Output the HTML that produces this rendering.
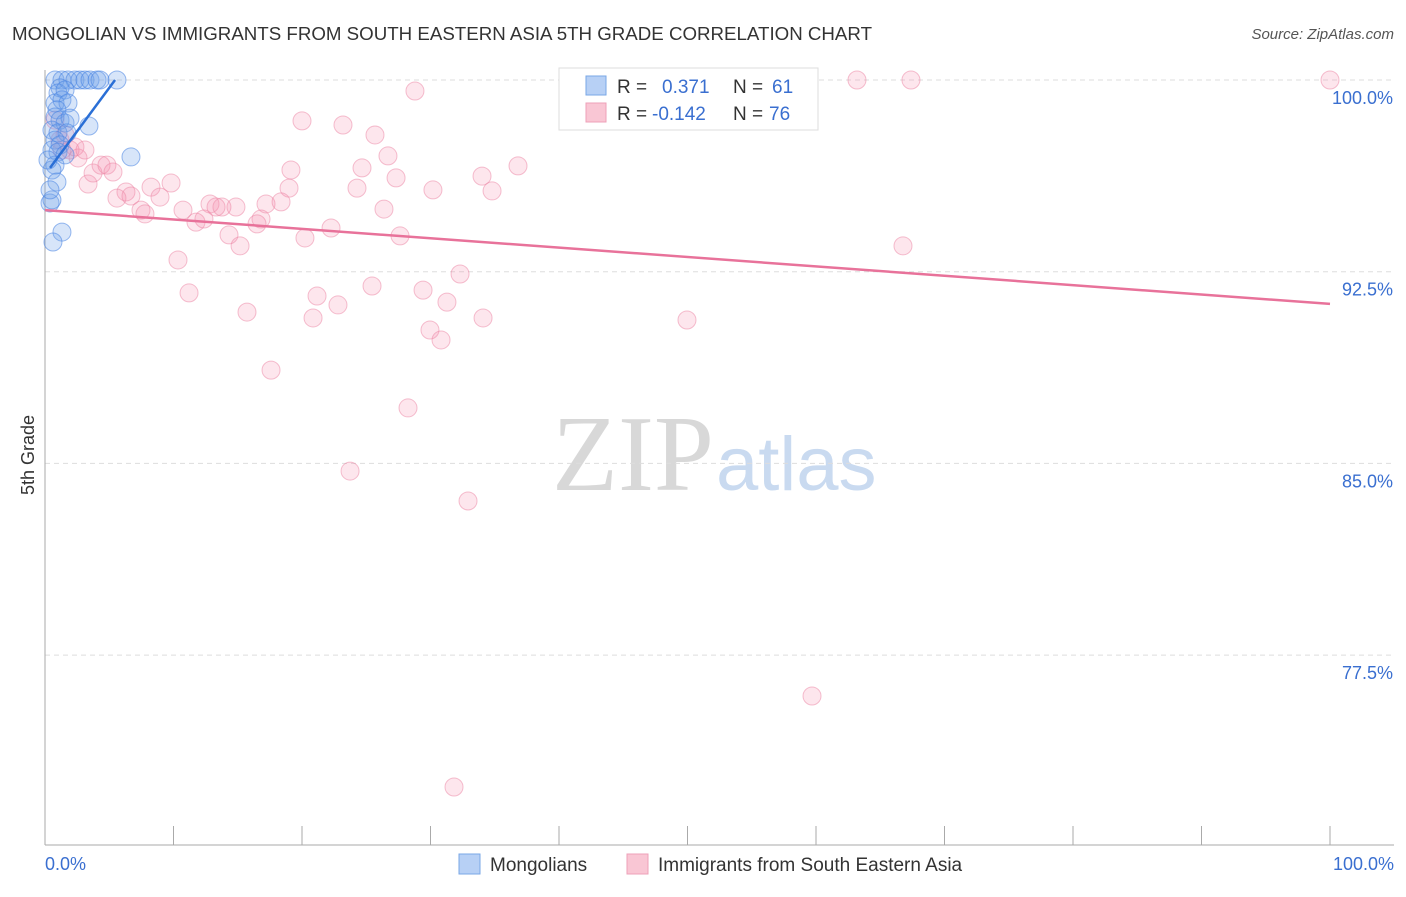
<!DOCTYPE html>
<html><head><meta charset="utf-8"><style>
body{margin:0;background:#fff;font-family:"Liberation Sans",sans-serif}
svg text{font-family:"Liberation Sans",sans-serif}
</style></head><body>
<svg id="chart" width="1406" height="892" xmlns="http://www.w3.org/2000/svg">
<text x="12" y="40" font-size="18" fill="#333" textLength="860" lengthAdjust="spacingAndGlyphs">MONGOLIAN VS IMMIGRANTS FROM SOUTH EASTERN ASIA 5TH GRADE CORRELATION CHART</text>
<text x="1394" y="39" font-size="15" fill="#555" font-style="italic" text-anchor="end">Source: ZipAtlas.com</text>
<text x="714" y="490" font-size="108" fill="#d8d8d8" text-anchor="end" style="font-family:'Liberation Serif',serif">ZIP</text>
<text x="716" y="490" font-size="76" fill="#c9daf0">atlas</text>
<g id="grid"></g><g id="axes"></g><g id="pts"></g><g id="lines"></g>
<text x="34" y="455" font-size="18" fill="#333" text-anchor="middle" transform="rotate(-90 34 455)">5th Grade</text>
<g>
<rect x="559" y="68" width="259" height="62" fill="#fff" stroke="#ddd"/>
<rect x="586" y="76" width="20" height="19" fill="#b7d0f5" stroke="#7aa7e6"/>
<rect x="586" y="103" width="20" height="19" fill="#f9c6d4" stroke="#eea0b8"/>
<text x="617" y="93" font-size="19" fill="#333">R =</text><text x="662" y="93" font-size="19" fill="#3a6fd0">0.371</text>
<text x="733" y="93" font-size="19" fill="#333">N =</text><text x="772" y="93" font-size="19" fill="#3a6fd0">61</text>
<text x="617" y="120" font-size="19" fill="#333">R =</text><text x="652" y="120" font-size="19" fill="#3a6fd0">-0.142</text>
<text x="733" y="120" font-size="19" fill="#333">N =</text><text x="769" y="120" font-size="19" fill="#3a6fd0">76</text>
</g>
<g>
<rect x="459" y="854" width="21" height="20" fill="#b7d0f5" stroke="#7aa7e6"/>
<text x="490" y="871" font-size="19" fill="#333">Mongolians</text>
<rect x="627" y="854" width="21" height="20" fill="#f9c6d4" stroke="#eea0b8"/>
<text x="658" y="871" font-size="19" fill="#333">Immigrants from South Eastern Asia</text>
</g>
</svg>
<script>
const yTicks=[100,92.5,85,77.5];
const yTickLabels=["100.0%","92.5%","85.0%","77.5%"];
const xTickLabels=["0.0%","100.0%"];
const blueX=[0.78,1.32,1.79,2.33,2.72,3.11,3.5,4.05,4.28,5.6,1.17,1.01,1.56,0.78,1.32,1.79,0.93,0.78,1.17,1.56,1.95,3.42,0.54,1.01,1.71,0.78,1.17,0.54,1.01,1.56,6.69,0.78,0.54,0.93,0.39,0.54,1.32,0.62,0.39,0.23];
const blueY=[100,100,100,100,100,100,100,100,100,100,99.69,99.49,99.61,99.1,99.22,99.1,98.83,98.55,98.43,98.32,98.51,98.2,98.04,97.93,97.93,97.65,97.46,97.26,97.18,97.07,96.99,96.67,96.48,96.01,95.19,95.31,94.05,93.66,95.7,96.87];
const pinkX=[63.19,67.39,100,28.79,20,23.19,25.68,26.69,19.14,24.67,36.81,34.01,27.32,24.28,30.19,34.79,26.38,18.99,17.2,18.37,14.86,12.84,13.77,10.74,11.75,12.37,13.31,16.81,16.5,14.32,15.18,20.23,22.26,27.63,66.77,9.81,8.25,6.3,5.6,6.69,8.95,7.47,7.78,3.35,3.74,4.36,4.82,5.29,2.57,1.95,2.33,1.56,1.32,3.11,10.35,11.21,15.72,20.86,21.17,22.8,25.45,29.42,31.28,32.3,34.09,29.96,30.82,49.96,17.59,28.25,23.74,32.92,59.69,31.83,1.17,0.78];
const pinkY=[100,100,100,99.57,98.4,98.24,97.85,97.03,96.48,96.56,96.64,96.24,96.17,95.77,95.7,95.66,94.95,95.77,95.15,95.23,95.03,95.15,95.03,94.91,94.44,94.56,95.03,94.56,94.37,93.94,93.51,93.82,94.21,93.9,93.51,95.97,95.81,95.62,95.38,95.46,95.42,94.91,94.76,95.93,96.36,96.67,96.67,96.4,96.95,97.26,97.38,97.85,97.26,97.26,92.96,91.67,90.92,90.69,91.55,91.2,91.94,91.78,91.31,92.41,90.69,90.22,89.83,90.61,88.65,87.17,84.7,83.53,75.9,72.34,97.65,98.43];
const blueFit=[[0.39,96.56],[5.45,100]];
const pinkFit=[[0,94.91],[100,91.24]];
const NS="http://www.w3.org/2000/svg";
const X=v=>45+v*12.85, Y=v=>80+(100-v)*25.56;
function mk(t,a,p){const e=document.createElementNS(NS,t);for(const k in a)e.setAttribute(k,a[k]);p.appendChild(e);return e;}
const grid=document.getElementById('grid'),axes=document.getElementById('axes'),pts=document.getElementById('pts'),lines=document.getElementById('lines');
yTicks.forEach((t,i)=>{
 const g=mk('line',{x1:45,x2:1394,y1:Y(t),y2:Y(t),stroke:'#ddd','stroke-dasharray':'5,4'},grid);
 
 
 const l=mk('text',{x:1393,y:Y(t)+24,'font-size':18,fill:'#3a6fd0','text-anchor':'end'},axes);
 l.textContent=yTickLabels[i];
 
 
});
let a=mk('line',{x1:45,x2:45,y1:70,y2:845,stroke:'#aaa'},axes);


a=mk('line',{x1:45,x2:1394,y1:845,y2:845,stroke:'#aaa'},axes);


for(let i=1;i<=10;i++){const t=mk('line',{x1:X(i*10),x2:X(i*10),y1:826,y2:845,stroke:'#aaa'},axes);
 
 }
[[0,'start',45],[100,'end',1394]].forEach((d,i)=>{const t=mk('text',{x:d[2],y:870,'font-size':18,fill:'#3a6fd0','text-anchor':d[1]},axes);t.textContent=xTickLabels[i];
 
 });
pinkX.forEach((x,i)=>{const c=mk('circle',{cx:X(x),cy:Y(pinkY[i]),r:9,fill:'rgba(244,143,172,0.22)',stroke:'rgba(236,130,162,0.5)','stroke-width':1},pts);
 
 });
blueX.forEach((x,i)=>{const c=mk('circle',{cx:X(x),cy:Y(blueY[i]),r:9,fill:'rgba(110,160,235,0.28)',stroke:'rgba(70,130,225,0.55)','stroke-width':1},pts);
 
 });
let f=mk('line',{x1:X(blueFit[0][0]),y1:Y(blueFit[0][1]),x2:X(blueFit[1][0]),y2:Y(blueFit[1][1]),stroke:'#2a6fd6','stroke-width':2.5},lines);


f=mk('line',{x1:X(pinkFit[0][0]),y1:Y(pinkFit[0][1]),x2:X(pinkFit[1][0]),y2:Y(pinkFit[1][1]),stroke:'#e8729a','stroke-width':2.5},lines);


</script>
</body></html>
